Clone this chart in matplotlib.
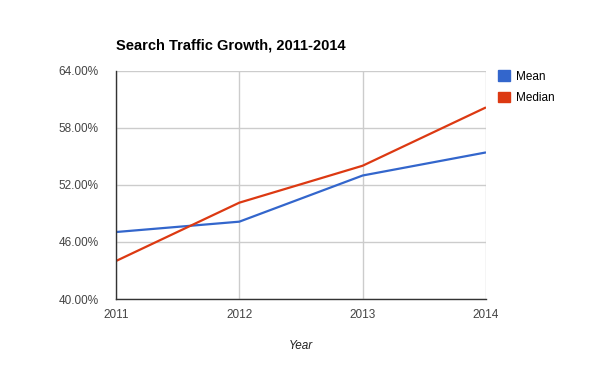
import matplotlib.pyplot as plt
from matplotlib.patches import Patch
from matplotlib.ticker import FuncFormatter

years = [2011, 2012, 2013, 2014]
mean = [47.05, 48.14, 53.0, 55.43]
median = [44.0, 50.14, 54.03, 60.17]
yticks = [40, 46, 52, 58, 64]

blue = "#3366cc"
red = "#dc3912"

plt.rcParams["font.family"] = ["Liberation Sans", "DejaVu Sans"]

fig = plt.figure(figsize=(6, 3.71), dpi=100)
ax = fig.add_axes([116 / 600, 1 - 299 / 371, 370 / 600, 228 / 371])

ax.plot(years, mean, color=blue, linewidth=1.6, solid_capstyle="butt")
ax.plot(years, median, color=red, linewidth=1.6, solid_capstyle="butt")

ax.set_xlim(2011, 2014)
ax.set_ylim(40, 64)
ax.set_xticks(years)
ax.set_yticks(yticks)
ax.yaxis.set_major_formatter(FuncFormatter(lambda v, p: "%.2f%%" % v))
ax.grid(True, color="#cccccc", linewidth=1)
ax.set_axisbelow(True)
ax.tick_params(length=0, labelsize=8.5, labelcolor="#444444")
ax.tick_params(axis="y", pad=12.5)
ax.tick_params(axis="x", pad=7)
for s in ["top", "right"]:
    ax.spines[s].set_visible(False)
for s in ["left", "bottom"]:
    ax.spines[s].set_color("#333333")
    ax.spines[s].set_linewidth(1)
    ax.spines[s].set_zorder(3)

ax.set_xlabel("Year", fontsize=8.5, style="italic", color="#222222", labelpad=14)
fig.text(116 / 600, 1 - 45 / 371, "Search Traffic Growth, 2011-2014",
         fontsize=10.5, fontweight="bold", va="center", ha="left")

handles = [Patch(color=blue, label="Mean"), Patch(color=red, label="Median")]
fig.legend(handles=handles, loc="upper left", bbox_to_anchor=(496 / 600, 1 - 68 / 371),
           frameon=False, fontsize=8.5, handlelength=1.0, handleheight=1.0,
           handletextpad=0.5, labelspacing=0.75, borderaxespad=0, borderpad=0.2)

fig.savefig("out.png", dpi=100)
